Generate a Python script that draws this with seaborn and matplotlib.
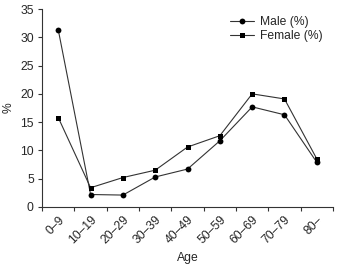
import matplotlib
matplotlib.use("Agg")
import matplotlib.pyplot as plt
import matplotlib.transforms as mtrans
import seaborn as sns
import pandas as pd
import numpy as np

# age groups and percentages
age_groups = ["0\u20139", "10\u201319", "20\u201329", "30\u201339", "40\u201349",
              "50\u201359", "60\u201369", "70\u201379", "80\u2013"]
male_pct = [31.3, 2.2, 2.1, 5.3, 6.7, 11.7, 17.7, 16.3, 7.9]
female_pct = [15.8, 3.4, 5.2, 6.5, 10.6, 12.6, 20.0, 19.1, 8.5]

sns.set_style("ticks")
plt.rcParams['font.family'] = ['Liberation Sans', 'DejaVu Sans']
fs = 8.7

pos = np.arange(len(age_groups))
df_m = pd.DataFrame({'pos': pos, 'pct': male_pct})
df_f = pd.DataFrame({'pos': pos, 'pct': female_pct})

fig = plt.figure(figsize=(3.37, 2.66), dpi=100)
ax = fig.add_axes([0.125, 0.222, 0.863, 0.744])

sns.lineplot(data=df_m, x='pos', y='pct', marker='o', color='#333333',
             linewidth=0.8, markersize=4.2, markerfacecolor='black',
             markeredgecolor='black', markeredgewidth=0, label='Male (%)', ax=ax)
sns.lineplot(data=df_f, x='pos', y='pct', marker='s', color='#333333',
             linewidth=0.8, markersize=3.6, markerfacecolor='black',
             markeredgecolor='black', markeredgewidth=0, label='Female (%)', ax=ax)

ax.set_xlim(-0.5, len(age_groups) - 0.5)
ax.set_ylim(0, 35)
ax.set_yticks(range(0, 36, 5))
ax.set_xticks(np.arange(-0.5, len(age_groups), 1.0))
ax.set_xticklabels([])
ax.set_xticks(pos, minor=True)
ax.set_xticklabels(age_groups, minor=True, rotation=45, ha='right', va='top',
                   rotation_mode='anchor', fontsize=fs)
# nudge rotated labels a little to the right, like the original
shift = mtrans.ScaledTranslation(3 / 100, 0, fig.dpi_scale_trans)
for lab in ax.get_xticklabels(minor=True):
    lab.set_transform(lab.get_transform() + shift)
ax.tick_params(axis='x', which='minor', length=0, pad=5)
ax.tick_params(axis='both', which='major', length=3, width=0.8,
               labelsize=fs, color='#333333', pad=3)
for s in ['left', 'bottom']:
    ax.spines[s].set_linewidth(0.8)
    ax.spines[s].set_color('#333333')
sns.despine(ax=ax)

ax.set_xlabel('Age', fontsize=fs, labelpad=4)
ax.set_ylabel('%', fontsize=fs, labelpad=4)

leg = ax.legend(loc='upper right', bbox_to_anchor=(0.966, 0.965), frameon=False,
                fontsize=fs, handlelength=2.0, handletextpad=0.5,
                labelspacing=0.15, borderpad=0, borderaxespad=0, title=None)

fig.savefig('out.png', dpi=100)
